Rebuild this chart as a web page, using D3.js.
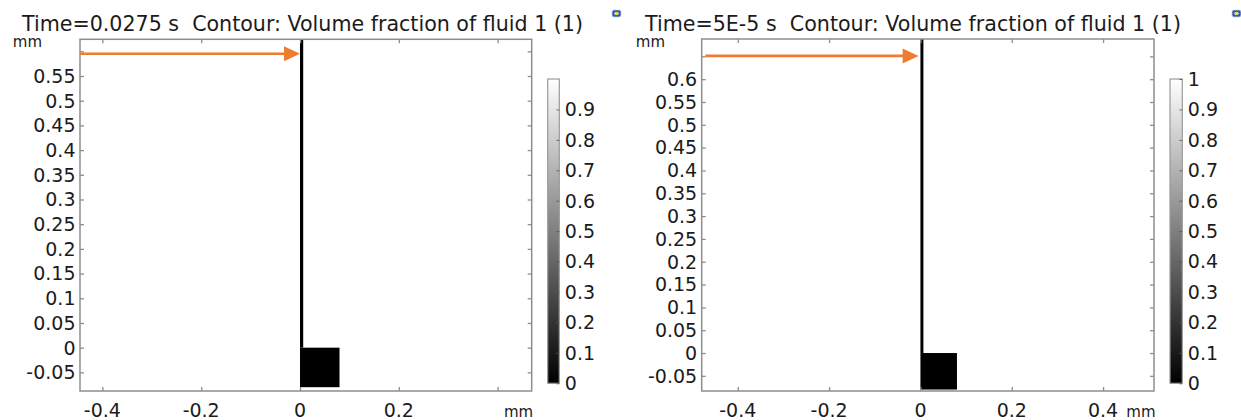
<!DOCTYPE html>
<html>
<head>
<meta charset="utf-8">
<script src="https://cdn.jsdelivr.net/npm/d3@7"></script>
<style>
  html, body { margin: 0; padding: 0; background: #fff; }
  svg { display: block; font-family: "DejaVu Sans", sans-serif; }
</style>
</head>
<body>
<svg id="chart" width="1241" height="420"></svg>
<script>
// Volume-fraction contour plots at two time steps (units: mm)
const titles = [
  "Time=0.0275 s  Contour: Volume fraction of fluid 1 (1)",
  "Time=5E-5 s  Contour: Volume fraction of fluid 1 (1)"
];
const xExtents = [[-0.4453, 0.469], [-0.479, 0.5115]];
const yExtents = [[-0.0877, 0.6243], [-0.0832, 0.688]];
const xTickValues = [-0.4, -0.2, 0, 0.2, 0.4];
const xTickLabels = [["-0.4", "-0.2", "0", "0.2", ""], ["-0.4", "-0.2", "0", "0.2", "0.4"]];
const yTickValuesLeft = [-0.05, 0, 0.05, 0.1, 0.15, 0.2, 0.25, 0.3, 0.35, 0.4, 0.45, 0.5, 0.55, 0.6];
const yTickValuesRight = [-0.05, 0, 0.05, 0.1, 0.15, 0.2, 0.25, 0.3, 0.35, 0.4, 0.45, 0.5, 0.55, 0.6, 0.65];
const yHiddenLabel = [0.6, 0.65];            // topmost tick has no label (clashes with unit)
const colorTicksLeft = [0, 0.1, 0.2, 0.3, 0.4, 0.5, 0.6, 0.7, 0.8, 0.9];
const colorTicksRight = [0, 0.1, 0.2, 0.3, 0.4, 0.5, 0.6, 0.7, 0.8, 0.9, 1];
// geometry: thin wall along x=0 and a square block below y=0
const wallX = [0, 0.0065];
const wallBottom = 0;
const blockX = [0, 0.08];
const blockY = [-0.08, 0];
// inflow arrows (start x, tip x, height) in mm
const arrowStartX = [-0.4453, -0.471];
const arrowTipX = [0, -0.004];
const arrowY = [0.595, 0.651];

const svg = d3.select("#chart");
const frameColor = "#8e8e8e";
const textColor = "#1b1b1b";
const arrowColor = "#ed7d31";

// plain number text with an ASCII hyphen for negatives
const num = (d, p) => String(+d.toFixed(p));

const layout = [
  { left: 80, right: 531.7, top: 39.3, bottom: 391, titleX: 22, titleW: 561, unitX: 42,
    cbL: 547.7, cbR: 559.3, cbTop: 79, cbBot: 383.3, icon: [612, 10] },
  { left: 701.7, right: 1154, top: 39, bottom: 391, titleX: 645, titleW: 536, unitX: 665,
    cbL: 1170, cbR: 1182.3, cbTop: 79, cbBot: 383.3, icon: [1232, 10] }
];

// shared gradients for colorbars and status icons
const defs = svg.append("defs");
const grad = defs.append("linearGradient").attr("id", "gray")
  .attr("x1", 0).attr("y1", 1).attr("x2", 0).attr("y2", 0);
grad.append("stop").attr("offset", "0%").attr("stop-color", "#000");
grad.append("stop").attr("offset", "100%").attr("stop-color", "#fff");
const iconGrad = defs.append("radialGradient").attr("id", "icon");
iconGrad.append("stop").attr("offset", "0%").attr("stop-color", "#f4d23c");
iconGrad.append("stop").attr("offset", "45%").attr("stop-color", "#f4d23c");
iconGrad.append("stop").attr("offset", "55%").attr("stop-color", "#2f64c8");
iconGrad.append("stop").attr("offset", "100%").attr("stop-color", "#1d4aa0");

layout.forEach((L, i) => {
  const g = svg.append("g");
  const x = d3.scaleLinear().domain(xExtents[i]).range([L.left, L.right]);
  const y = d3.scaleLinear().domain(yExtents[i]).range([L.bottom, L.top]);
  const yTicks = i === 0 ? yTickValuesLeft : yTickValuesRight;
  const cTicks = i === 0 ? colorTicksLeft : colorTicksRight;

  // title
  g.append("text")
    .attr("x", L.titleX).attr("y", 30.5)
    .attr("font-size", 21).attr("fill", textColor)
    .attr("textLength", L.titleW).attr("lengthAdjust", "spacingAndGlyphs")
    .attr("xml:space", "preserve").style("white-space", "pre")
    .text(titles[i]);

  // small status icon
  g.append("rect")
    .attr("x", L.icon[0]).attr("y", L.icon[1]).attr("width", 9).attr("height", 7)
    .attr("rx", 2).attr("fill", "url(#icon)").attr("stroke", "#c9d3e6").attr("stroke-width", 0.8);

  // geometry
  g.append("rect")
    .attr("x", x(blockX[0])).attr("y", y(blockY[1]))
    .attr("width", x(blockX[1]) - x(blockX[0])).attr("height", y(blockY[0]) - y(blockY[1]))
    .attr("fill", "#000");
  g.append("rect")
    .attr("x", x(wallX[0])).attr("y", L.top)
    .attr("width", x(wallX[1]) - x(wallX[0])).attr("height", y(wallBottom) - L.top)
    .attr("fill", "#000");

  // frame with inward ticks on all four sides
  g.append("rect")
    .attr("x", L.left).attr("y", L.top)
    .attr("width", L.right - L.left).attr("height", L.bottom - L.top)
    .attr("fill", "none").attr("stroke", frameColor).attr("stroke-width", 1.5);

  const tk = 4;
  const bottomAxis = d3.axisBottom(x).tickValues(xTickValues).tickSize(-tk).tickFormat("");
  const topAxis = d3.axisTop(x).tickValues(xTickValues).tickSize(-tk).tickFormat("");
  const leftAxis = d3.axisLeft(y).tickValues(yTicks).tickSize(-tk).tickFormat("");
  const rightAxis = d3.axisRight(y).tickValues(yTicks).tickSize(-tk).tickFormat("");
  [[bottomAxis, `translate(0,${L.bottom})`], [topAxis, `translate(0,${L.top})`],
   [leftAxis, `translate(${L.left},0)`], [rightAxis, `translate(${L.right},0)`]].forEach(([ax, tr]) => {
    const a = g.append("g").attr("transform", tr).call(ax);
    a.select(".domain").remove();
    a.selectAll("line").attr("stroke", frameColor).attr("stroke-width", 1.3);
  });

  // x tick labels
  g.selectAll(".xl").data(xTickValues).join("text")
    .attr("x", (d) => x(d)).attr("y", 416.5)
    .attr("text-anchor", "middle").attr("font-size", 19).attr("fill", textColor)
    .text((d, k) => xTickLabels[i][k]);
  // x unit
  g.append("text")
    .attr("x", L.right + 1.5).attr("y", 416.5)
    .attr("text-anchor", "end").attr("font-size", 15).attr("fill", textColor)
    .text("mm");

  // y tick labels
  g.selectAll(".yl").data(yTicks.filter((d) => d !== yHiddenLabel[i])).join("text")
    .attr("x", L.left - 4.5).attr("y", (d) => y(d)).attr("dy", "0.36em")
    .attr("text-anchor", "end").attr("font-size", 19).attr("fill", textColor)
    .text((d) => num(d, 2));
  // y unit
  g.append("text")
    .attr("x", L.unitX).attr("y", 47).attr("text-anchor", "end")
    .attr("font-size", 15).attr("fill", textColor).text("mm");

  // inflow arrow
  const ax0 = x(arrowStartX[i]), ax1 = x(arrowTipX[i]), ay = y(arrowY[i]);
  const headLen = 16, headHalf = 7.5;
  g.append("line")
    .attr("x1", ax0).attr("y1", ay).attr("x2", ax1 - headLen + 1).attr("y2", ay)
    .attr("stroke", arrowColor).attr("stroke-width", 2.6);
  g.append("path")
    .attr("d", `M${ax1},${ay} L${ax1 - headLen},${ay - headHalf} L${ax1 - headLen},${ay + headHalf} Z`)
    .attr("fill", arrowColor);

  // colorbar
  const c = d3.scaleLinear().domain([0, 1]).range([L.cbBot, L.cbTop]);
  g.append("rect")
    .attr("x", L.cbL).attr("y", c(1)).attr("width", L.cbR - L.cbL).attr("height", c(0) - c(1))
    .attr("fill", "url(#gray)").attr("stroke", "#9a9a9a").attr("stroke-width", 1.2);
  const cAxis = d3.axisRight(c).tickValues(cTicks).tickSize(-3).tickFormat("");
  const ca = g.append("g").attr("transform", `translate(${L.cbR},0)`).call(cAxis);
  ca.select(".domain").remove();
  ca.selectAll("line").attr("stroke", "#555").attr("stroke-width", 0.8);
  g.selectAll(".cl").data(cTicks).join("text")
    .attr("x", L.cbR + 5.5).attr("y", (d) => c(d)).attr("dy", "0.36em")
    .attr("font-size", 19).attr("fill", textColor)
    .text((d) => num(d, 1));
});
</script>
</body>
</html>
